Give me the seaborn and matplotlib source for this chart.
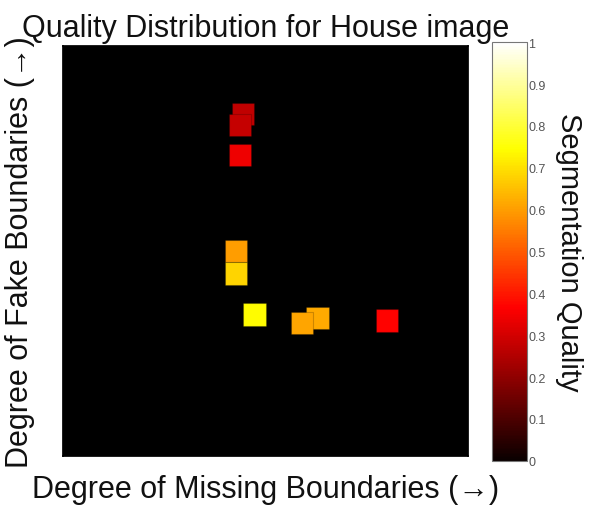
import matplotlib
matplotlib.use("Agg")
import matplotlib.pyplot as plt
import numpy as np
import pandas as pd
import seaborn as sns
from matplotlib.cm import ScalarMappable
from matplotlib.colors import Normalize

# Segmentation results: degree of missing boundaries (x), degree of fake
# boundaries (y) and the resulting segmentation quality. Listed in draw order.
missing_degree = [0.445, 0.437, 0.437, 0.427, 0.427, 0.473, 0.628, 0.590, 0.800]
fake_degree = [0.833, 0.806, 0.734, 0.499, 0.444, 0.344, 0.336, 0.324, 0.330]
quality = [0.27, 0.28, 0.34, 0.60, 0.68, 0.74, 0.62, 0.61, 0.37]

colorbar_ticks = [0, 0.1, 0.2, 0.3, 0.4, 0.5, 0.6, 0.7, 0.8, 0.9, 1]
colorbar_ticklabels = ["0", "0.1", "0.2", "0.3", "0.4", "0.5", "0.6", "0.7", "0.8", "0.9", "1"]

df = pd.DataFrame({"missing": missing_degree, "fake": fake_degree, "quality": quality})

sns.set_theme(style="white")
plt.rcParams["font.family"] = ["Liberation Sans", "DejaVu Sans"]

fig = plt.figure(figsize=(5.97, 5.06), dpi=100)
ax = fig.add_axes([0.105, 0.0974, 0.6794, 0.8103])
ax.set_facecolor("black")

norm = Normalize(0, 1)
sns.scatterplot(data=df, x="missing", y="fake", hue="quality", palette="hot",
                hue_norm=norm, marker="s", s=262, linewidth=0.8,
                edgecolor=(0, 0, 0, 0.2), legend=False, ax=ax)

ax.set_xlim(0, 1)
ax.set_ylim(0, 1)
ax.set_xticks([])
ax.set_yticks([])
for sp in ax.spines.values():
    sp.set_color("black")

ax.set_title("Quality Distribution for House image", fontsize=22, pad=7, color="#111111")
ax.set_xlabel("Degree of Missing Boundaries (\u2192)", fontsize=22, labelpad=13, color="#111111")
ax.set_ylabel("Degree of Fake Boundaries (\u2192)", fontsize=22, labelpad=20, color="#111111")

# Colour scale
cax = fig.add_axes([0.824, 0.0875, 0.0586, 0.827])
cb = fig.colorbar(ScalarMappable(norm=norm, cmap="hot"), cax=cax)
cb.set_ticks(colorbar_ticks)
cb.set_ticklabels(colorbar_ticklabels)
cb.outline.set_edgecolor("#777777")
cb.outline.set_linewidth(0.8)
cax.tick_params(axis="y", direction="in", left=True, right=True, length=3,
                width=0.6, color="#555555", labelsize=9, labelcolor="#555555", pad=1)
cb.set_label("Segmentation Quality", fontsize=21, rotation=-90, labelpad=27, color="#111111")

fig.savefig("out.png", dpi=100, facecolor="white")
